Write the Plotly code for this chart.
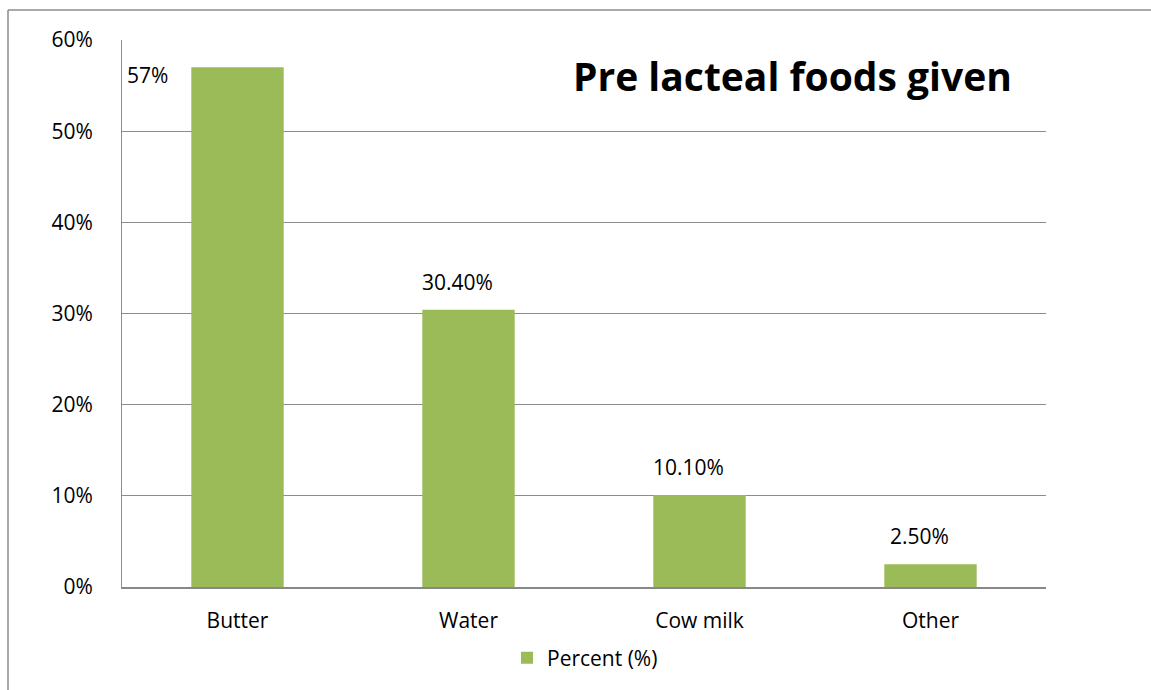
import plotly.graph_objects as go

categories = ["Butter", "Water", "Cow milk", "Other"]
values = [57.0, 30.4, 10.1, 2.5]
value_labels = ["57%", "30.40%", "10.10%", "2.50%"]
tick_vals = [0, 10, 20, 30, 40, 50, 60]
tick_text = ["0%", "10%", "20%", "30%", "40%", "50%", "60%"]

W, H = 1151, 690
L, R, T, B = 122, 105, 40, 103
pw, ph = W - L - R, H - T - B

def px_x(x):
    return (x - L) / pw

def px_y(y):
    return (H - B - y) / ph

font = "Open Sans, Noto Sans, sans-serif"
FS = 21

fig = go.Figure()
fig.add_trace(go.Bar(
    x=categories, y=values, name="Percent (%)",
    marker=dict(color="#9BBB59", line=dict(width=0)),
    showlegend=True,
))

annotations = []
for i, (c, v, t) in enumerate(zip(categories, values, value_labels)):
    if i == 0:
        annotations.append(dict(x=c, y=v, text=t, showarrow=False, xshift=-90, yshift=-8,
                                font=dict(size=FS, color="#000", family=font)))
    else:
        annotations.append(dict(x=c, y=v, text=t, showarrow=False, xshift=-11, yshift=28,
                                font=dict(size=FS, color="#000", family=font)))

annotations.append(dict(xref="paper", yref="paper", x=px_x(1014), y=px_y(76),
                        xanchor="right", yanchor="middle", showarrow=False,
                        text="<b>Pre lacteal foods given</b>",
                        font=dict(size=39, color="#000", family=font)))

shapes = [
    dict(type="line", xref="paper", yref="paper", x0=px_x(8), x1=px_x(8), y0=px_y(10), y1=px_y(700),
         line=dict(color="#8c8c8c", width=1.5)),
    dict(type="line", xref="paper", yref="paper", x0=px_x(8), x1=px_x(1160), y0=px_y(10), y1=px_y(10),
         line=dict(color="#8c8c8c", width=1.5)),
]

fig.update_layout(
    width=W, height=H,
    margin=dict(l=L, r=R, t=T, b=B),
    paper_bgcolor="white", plot_bgcolor="white",
    bargap=0.6,
    font=dict(family=font, size=FS, color="#000"),
    annotations=annotations,
    shapes=shapes,
    legend=dict(orientation="h", x=px_x(585), y=px_y(658), xanchor="center", yanchor="middle",
                font=dict(size=FS, family=font), itemwidth=30),
    xaxis=dict(showgrid=False, showline=True, linecolor="#888888", linewidth=2,
               ticks="", tickfont=dict(size=FS, family=font), ticklabelstandoff=14),
    yaxis=dict(range=[0, 60], tickvals=tick_vals, ticktext=tick_text, showgrid=True,
               gridcolor="#8c8c8c", gridwidth=1, showline=True, linecolor="#8c8c8c", linewidth=1,
               zeroline=False, ticks="", tickfont=dict(size=FS, family=font), ticklabelstandoff=24),
)

fig.write_html("out.html")
